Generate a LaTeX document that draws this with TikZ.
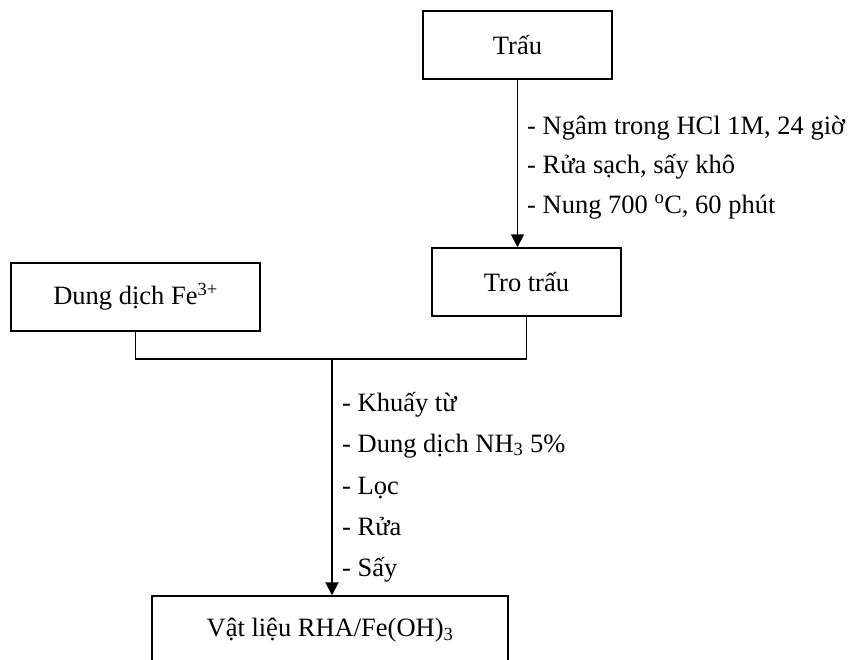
\documentclass[tikz,border=0pt]{standalone}
\usepackage{fontspec}
\setmainfont{Liberation Serif}
\usetikzlibrary{arrows.meta,positioning,calc}

\begin{document}
\begin{tikzpicture}[x=1pt,y=-1pt,
  every node/.style={font=\fontsize{26.5}{32}\selectfont},
  box/.style={draw,line width=1.5pt,minimum height=68pt,inner sep=0pt},
  arr/.style={-{Triangle[length=13pt,width=13pt]},line width=1.9pt},
  link/.style={line width=1.6pt},
  note/.style={anchor=base west,inner sep=0pt},
]
\useasboundingbox (0,0) rectangle (848,659);

%% Material boxes
\node[box,minimum width=189pt] (trau) at (517.5,45) {Trấu};
\node[box,minimum width=189pt] (trotrau) at (526.5,282) {Tro trấu};
\node[box,minimum width=249pt] (fedd) at (135.5,297) {Dung dịch Fe\textsuperscript{3+}};
\node[box,minimum width=356pt] (vatlieu) at (330,630) {Vật liệu RHA/Fe(OH)\textsubscript{3}};

%% Husk to ash
\draw[arr] (trau.south) -- (trau.south |- trotrau.north);
\node[note] (ngam) at (527,134) {- Ngâm trong HCl 1M, 24 giờ};
\node[note] (rua1) at (527,173) {- Rửa sạch, sấy khô};
\node[note] (nung) at (527,213) {- Nung 700 \textsuperscript{o}C, 60 phút};

%% Mixing and product
\coordinate (join) at (332,359);
\draw[link] (fedd.south) |- (join) -| (trotrau.south);
\draw[arr] (join) -- (join |- vatlieu.north);

\node[note] (khuay) at (342,411) {- Khuấy từ};
\node[note] (nh3) at (342,452) {- Dung dịch NH\textsubscript{3} 5\%};
\node[note] (loc) at (342,494) {- Lọc};
\node[note] (rua2) at (342,535) {- Rửa};
\node[note] (say) at (342,576) {- Sấy};

\end{tikzpicture}
\end{document}
